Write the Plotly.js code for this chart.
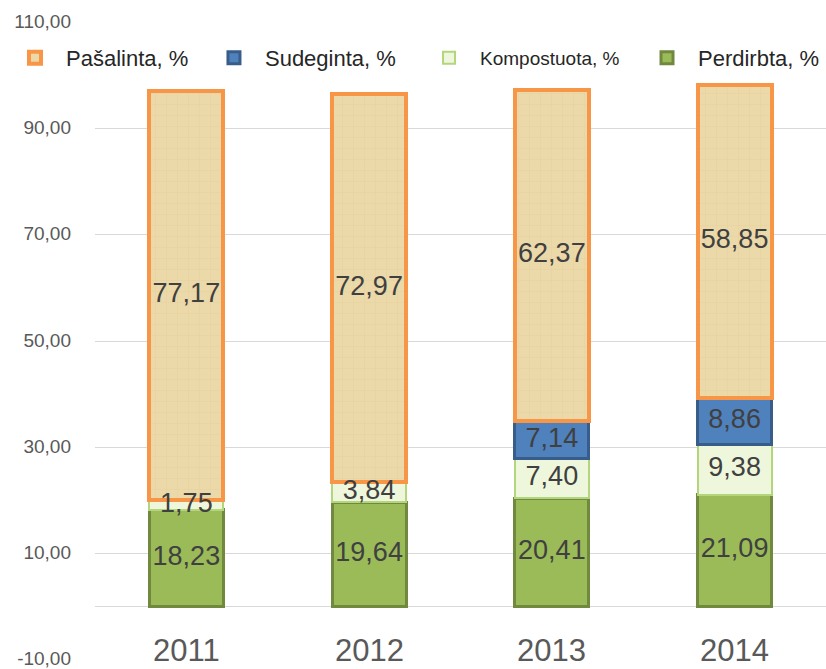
<!DOCTYPE html>
<html>
<head>
<meta charset="utf-8">
<script src="https://cdn.plot.ly/plotly-3.0.1.min.js"></script>
<style>html,body{margin:0;padding:0;background:#fff;}#chart{width:826px;height:669px;}</style>
</head>
<body>
<div id="chart"></div>
<script>
const years = ['2011', '2012', '2013', '2014'];
const perdirbta = [18.23, 19.64, 20.41, 21.09];
const kompostuota = [1.75, 3.84, 7.40, 9.38];
const sudeginta = [0, 0, 7.14, 8.86];
const pasalinta = [77.17, 72.97, 62.37, 58.85];
const seriesNames = ['Perdirbta, %', 'Kompostuota, %', 'Sudeginta, %', 'Pašalinta, %'];
const yTicks = [-10, 10, 30, 50, 70, 90, 110];

const fmt = v => (v === 0 ? '' : v.toFixed(2).replace('.', ','));
const FONT = 'Liberation Sans, Arial, sans-serif';
const labelFont = {family: FONT, size: 27, color: '#404040'};

function barTrace(name, values, fill, line, lw, legendId, pattern) {
  const t = {
    type: 'bar', x: years, y: values, name: name, legend: legendId,
    marker: {color: fill, line: {color: line, width: lw}},
    hoverinfo: 'x+y+name'
  };
  if (pattern) t.marker.pattern = pattern;
  return t;
}

const stack = [perdirbta, kompostuota, sudeginta, pasalinta];
// label overlay traces: midpoints of each stacked segment, computed from the data
const labelTraces = stack.map((vals, si) => ({
  type: 'scatter', mode: 'text', x: years,
  y: vals.map((v, i) => stack.slice(0, si).reduce((s, arr) => s + arr[i], 0) + v / 2),
  text: vals.map(fmt), textposition: 'middle center',
  textfont: labelFont, showlegend: false, hoverinfo: 'skip'
}));

const data = [
  barTrace(seriesNames[0], perdirbta, '#9BBB59', '#71893F', 3, 'legend4'),
  barTrace(seriesNames[1], kompostuota, '#EEF7DC', '#B3D67C', 2, 'legend3'),
  barTrace(seriesNames[2], sudeginta, '#4F81BD', '#385D8A', 3, 'legend2'),
  barTrace(seriesNames[3], pasalinta, '#ECD9A9', '#F79646', 4, 'legend',
    {shape: '+', fgcolor: '#C9AE72', fgopacity: 0.15, bgcolor: '#ECD9A9', size: 11, solidity: 0.1}),
  ...labelTraces
];

function legendAt(xPaper, size) {
  return {
    orientation: 'h', x: xPaper, xanchor: 'left',
    y: 1 - 36 / 638, yanchor: 'middle', itemwidth: 52,
    font: {family: FONT, size: size, color: '#262626'},
    bgcolor: 'rgba(0,0,0,0)'
  };
}

const layout = {
  width: 826, height: 669,
  margin: {l: 95, r: 0, t: 22, b: 9, pad: 0, autoexpand: false},
  paper_bgcolor: '#ffffff', plot_bgcolor: '#ffffff',
  separators: ',.',
  barmode: 'stack', bargap: 0.595,
  showlegend: true,
  legend: legendAt(-0.1245, 22),
  legend2: legendAt(0.1477, 22),
  legend3: legendAt(0.4419, 19),
  legend4: legendAt(0.7401, 22),
  xaxis: {
    type: 'category', showticklabels: false, showgrid: false,
    zeroline: false, showline: false, ticks: '', range: [-0.5, 3.5]
  },
  yaxis: {
    range: [-10.05, 110.05], tickmode: 'array', tickvals: yTicks,
    ticktext: yTicks.map(v => v.toFixed(2).replace('.', ',')),
    showgrid: true, gridcolor: '#D9D9D9', gridwidth: 1,
    zeroline: true, zerolinecolor: '#D9D9D9', zerolinewidth: 1,
    showline: false, ticks: '', ticklabelstandoff: 23, ticklabelshift: -1,
    ticklabeloverflow: 'allow',
    tickfont: {family: FONT, size: 19, color: '#595959'}
  },
  annotations: years.map((y, i) => ({
    x: i, y: -10, xref: 'x', yref: 'y', text: y, showarrow: false,
    yanchor: 'bottom', yshift: -10,
    font: {family: FONT, size: 31, color: '#595959'}
  }))
};

Plotly.newPlot('chart', data, layout, {displayModeBar: false, staticPlot: true});
</script>
</body>
</html>
